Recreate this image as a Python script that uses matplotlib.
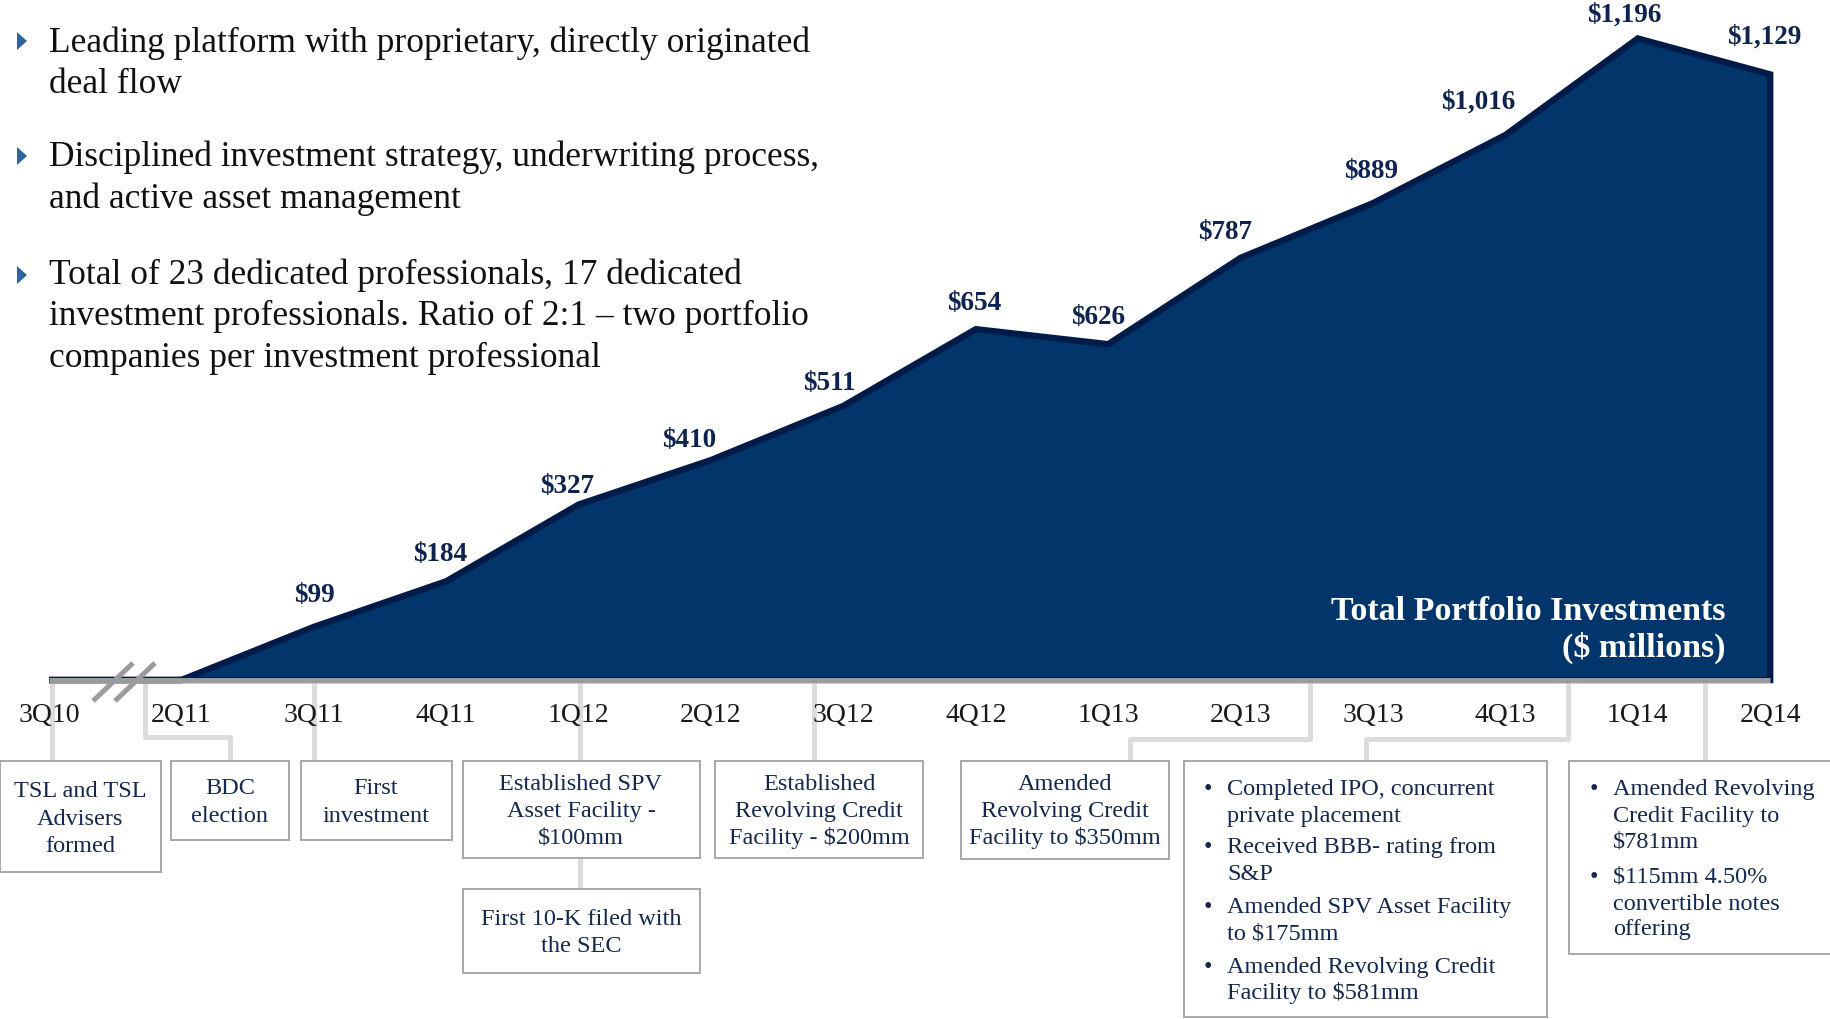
import matplotlib
matplotlib.use("Agg")
import matplotlib.pyplot as plt
from matplotlib.transforms import Affine2D, blended_transform_factory
from matplotlib.patches import Rectangle, Polygon

# ---------------- data ----------------
quarters = ['3Q10', '2Q11', '3Q11', '4Q11', '1Q12', '2Q12', '3Q12',
            '4Q12', '1Q13', '2Q13', '3Q13', '4Q13', '1Q14', '2Q14']
portfolio = [0, 0, 99, 184, 327, 410, 511, 654, 626, 787, 889, 1016, 1196, 1129]

bullets = [
    ["Leading platform with proprietary, directly originated", "deal flow"],
    ["Disciplined investment strategy, underwriting process,", "and active asset management"],
    ["Total of 23 dedicated professionals, 17 dedicated",
     "investment professionals. Ratio of 2:1 \u2013 two portfolio",
     "companies per investment professional"],
]

simple_boxes = [
    ["TSL and TSL", "Advisers", "formed"],
    ["BDC", "election"],
    ["First", "investment"],
    ["Established SPV", "Asset Facility -", "$100mm"],
    ["First 10-K filed with", "the SEC"],
    ["Established", "Revolving Credit", "Facility - $200mm"],
    ["Amended", "Revolving Credit", "Facility to $350mm"],
]
ipo_box = [
    ["Completed IPO, concurrent", "private placement"],
    ["Received BBB- rating from", "S&P"],
    ["Amended SPV Asset Facility", "to $175mm"],
    ["Amended Revolving Credit", "Facility to $581mm"],
]
q14_box = [
    ["Amended Revolving", "Credit Facility to", "$781mm"],
    ["$115mm 4.50%", "convertible notes", "offering"],
]
chart_title = ["Total Portfolio Investments", "($ millions)"]

# ---------------- layout (pixels, from top-left) ----------------
W, H = 1831, 1019
X0_PX, STEP_PX, BASE_PX, UNIT_PX = 49, 132.4, 680, 0.5364
label_offsets = [None, None, (1, 31), (-6, 27), (-12, 18), (-22, 20), (-14, 22),
                 (-2, 26), (-10, 27), (-16, 25), (-2, 32), (-27, 33), (-14, 23), (-6, 37)]

FILL = '#02366B'
EDGE = '#011B49'
GREY = '#9B9B9B'
CONN = '#DCDCDC'
BOXEDGE = '#A8A8A8'
NAVY_TXT = '#14274E'
LABEL_TXT = '#0E2350'
SERIF = 'Liberation Serif'

fig = plt.figure(figsize=(W / 100, H / 100), dpi=100)
ax = fig.add_axes([0, 0, 1, 1])
ax.set_xlim(-X0_PX / STEP_PX, (W - X0_PX) / STEP_PX)
ax.set_ylim((BASE_PX - H) / UNIT_PX, BASE_PX / UNIT_PX)
ax.axis('off')

T = Affine2D().scale(1 / W, -1 / H).translate(0, 1) + fig.transFigure
XT = blended_transform_factory(ax.transData, T)

# ---------------- area chart ----------------
xs = list(range(len(quarters)))
poly_x = xs + [xs[-1]]
poly_y = portfolio + [0]
ax.fill(poly_x, poly_y, facecolor=FILL, edgecolor=EDGE, linewidth=4.6,
        joinstyle='miter', zorder=2)
ax.plot([xs[0], xs[-1]], [0, 0], color=GREY, linewidth=3.6,
        solid_capstyle='butt', zorder=3)

# value labels
for i, v in enumerate(portfolio):
    if label_offsets[i] is None:
        continue
    dx, dy = label_offsets[i]
    ax.annotate(f"${v:,}", (i, v), xytext=(dx, dy), textcoords='offset pixels',
                ha='center', va='center', fontsize=19.5, fontweight='bold',
                color=LABEL_TXT, family=SERIF, zorder=5)

# axis break marks
for x1, x2 in [(93, 133), (115, 155)]:
    ax.plot([x1, x2], [701, 663], transform=T, color=GREY, linewidth=3.6,
            solid_capstyle='butt', zorder=4)

# tick labels
for i, q in enumerate(quarters):
    ax.text(i, 722, q, transform=XT, ha='center', va='baseline', fontsize=20,
            family=SERIF, color='#1A1A1A', zorder=5)

# chart title inside area
for line, yb in zip(chart_title, [620, 657]):
    ax.text(1726, yb, line, transform=T, ha='right', va='baseline', fontsize=24.5,
            fontweight='bold', family=SERIF, color='white', zorder=5)

# ---------------- connectors ----------------
connectors = [
    [(52, 683), (52, 761)],
    [(145, 683), (145, 737), (230, 737), (230, 761)],
    [(314, 683), (314, 761)],
    [(580, 683), (580, 761)],
    [(580, 858), (580, 889)],
    [(814, 683), (814, 761)],
    [(1310, 683), (1310, 739), (1130, 739), (1130, 761)],
    [(1568, 683), (1568, 739), (1366, 739), (1366, 761)],
    [(1705, 683), (1705, 761)],
]
for pts in connectors:
    ax.plot([p[0] for p in pts], [p[1] for p in pts], transform=T, color=CONN,
            linewidth=3.6, solid_joinstyle='round', solid_capstyle='butt', zorder=1)

# ---------------- boxes ----------------
box_rects = [(0.5, 761, 161, 111), (171, 761, 118, 79), (301, 761, 151, 79),
             (463, 761, 237, 97), (463, 889, 237, 84), (715, 761, 208, 97),
             (961, 761, 208, 98), (1184, 761, 363, 256), (1569, 761, 320, 193)]
for (x0, y0, w, h) in box_rects:
    ax.add_patch(Rectangle((x0, y0), w, h, transform=T, facecolor='white',
                           edgecolor=BOXEDGE, linewidth=1.4, zorder=2))

BOX_FS = 17.5
box_text_pos = [(80, [797, 825, 852]), (230, [794, 822]), (376, [794, 822]),
                (581, [790, 817, 844]), (581, [925, 952]), (819, [790, 817, 844]),
                (1065, [790, 817, 844])]
for lines, (cx, ybs) in zip(simple_boxes, box_text_pos):
    for line, yb in zip(lines, ybs):
        ax.text(cx, yb, line, transform=T, ha='center', va='baseline', fontsize=BOX_FS,
                family=SERIF, color=NAVY_TXT, zorder=5)


def bullet_list(items, bx, tx, ybs):
    k = 0
    for item in items:
        ax.text(bx, ybs[k], "\u2022", transform=T, ha='center', va='baseline',
                fontsize=BOX_FS, family=SERIF, color=NAVY_TXT, zorder=5)
        for line in item:
            ax.text(tx, ybs[k], line, transform=T, ha='left', va='baseline',
                    fontsize=BOX_FS, family=SERIF, color=NAVY_TXT, zorder=5)
            k += 1


bullet_list(ipo_box, 1208, 1227, [795, 822, 853, 880, 913, 940, 973, 999])
bullet_list(q14_box, 1594, 1613, [795, 822, 848, 883, 910, 935])

# ---------------- top-left bullets ----------------
bullet_baselines = [[52, 93], [166, 208], [284, 325, 367]]
tri_centers = [41, 156, 275]
for lines, ybs, yc in zip(bullets, bullet_baselines, tri_centers):
    ax.add_patch(Polygon([(17, yc - 9), (27, yc), (17, yc + 9)], closed=True,
                         transform=T, facecolor='#2F64A0', edgecolor='none', zorder=5))
    for line, yb in zip(lines, ybs):
        ax.text(49, yb, line, transform=T, ha='left', va='baseline', fontsize=25.5,
                family=SERIF, color='#111111', zorder=5)

fig.savefig('out.png', dpi=100)
